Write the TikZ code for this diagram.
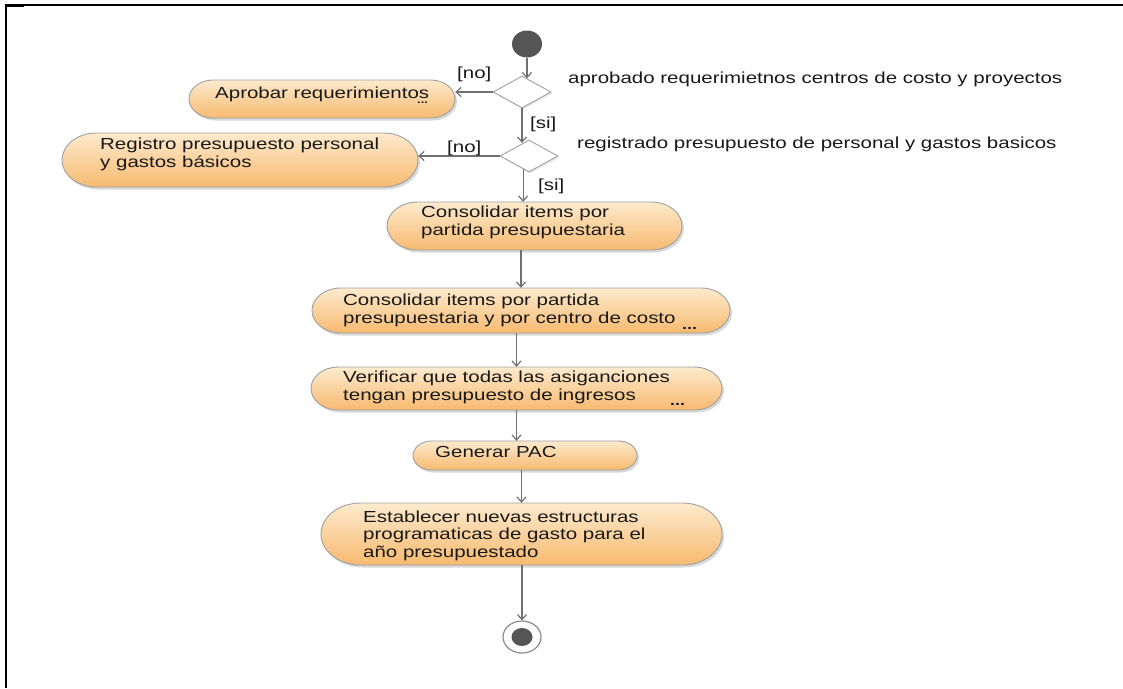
\documentclass[tikz,border=0pt]{standalone}
\usepackage{fontspec}
\setmainfont{Liberation Sans}[FakeStretch=1.28]
\usetikzlibrary{arrows.meta,shapes.geometric,shadows,calc}

\definecolor{pilltop}{RGB}{253,234,205}
\definecolor{pillbot}{RGB}{247,186,112}
\definecolor{pillline}{RGB}{160,160,160}
\definecolor{flowgray}{RGB}{112,112,112}
\definecolor{inkgray}{RGB}{25,25,25}
\definecolor{dotgray}{RGB}{85,85,85}

\tikzset{
  pillshape/.style={draw=pillline, line width=0.9pt, top color=pilltop, bottom color=pillbot,
    drop shadow={shadow xshift=2pt, shadow yshift=-2.5pt, opacity=0.25, fill=black!60}},
  pillbox/.style={rectangle, inner sep=0pt, draw=none},
  flow/.style={draw=flowgray, line width=1.2pt, -{Straight Barb[length=5pt,width=9pt]}},
  txt/.style={font=\fontsize{16}{17.5}\selectfont, text=inkgray, inner sep=0pt, align=left},
  more/.style={font=\fontsize{14}{14}\selectfont\bfseries, text=inkgray, inner sep=0pt},
  choice/.style={diamond, draw=pillline, fill=white, line width=0.9pt, minimum width=58pt,
    minimum height=32pt, inner sep=0pt,
    drop shadow={shadow xshift=1.5pt, shadow yshift=-1.5pt, opacity=0.15, fill=black!60}},
  startdot/.style={ellipse, fill=dotgray, minimum width=30pt, minimum height=27pt, inner sep=0pt},
  endring/.style={ellipse, draw=flowgray!80, line width=1.2pt, fill=white, minimum width=38pt,
    minimum height=32pt, inner sep=0pt},
  endcore/.style={ellipse, fill=dotgray, minimum width=21pt, minimum height=18pt, inner sep=0pt},
}

% activity: rounded box with elliptical ends plus an invisible named node for connectors
% #1 name, #2 centre x, #3 centre y, #4 width, #5 height
\newcommand\activity[5]{%
  \pgfmathsetmacro\axl{#2-#4/2}%
  \pgfmathsetmacro\axr{#2+#4/2}%
  \pgfmathsetmacro\ayt{#3-#5/2}%
  \pgfmathsetmacro\ayb{#3+#5/2}%
  \pgfmathsetmacro\ary{#5/2}%
  \pgfmathsetmacro\arx{1.28*#5/2}%
  \path[pillshape] ({\axl+\arx},\ayt) -- ({\axr-\arx},\ayt)
    arc[start angle=90, end angle=-90, x radius=\arx pt, y radius=\ary pt]
    -- ({\axl+\arx},\ayb)
    arc[start angle=270, end angle=90, x radius=\arx pt, y radius=\ary pt] -- cycle;
  \node[pillbox, minimum width=#4pt, minimum height=#5pt] (#1) at (#2,#3) {};
}

\begin{document}
\begin{tikzpicture}[x=1pt, y=-1pt]
  \useasboundingbox (0,0) rectangle (1123,688);
  \fill[white] (0,0) rectangle (1123,688);

  % frame
  \draw[line width=1.6pt] (5,5) -- (1123,5);
  \draw[line width=2pt] (6,4.2) -- (6,688);
  \draw[line width=2.6pt] (5,5.5) -- (24,5.5);

  % decisions and terminals
  \node[startdot] (start) at (527,44) {};
  \node[choice] (d1) at (522,92) {};
  \node[choice] (d2) at (529,156) {};
  \node[endring] (fin) at (522,637) {};
  \node[endcore] (fincore) at (522,637) {};

  % activities
  \activity{apr}{322}{99}{266}{38}
  \activity{reg}{240}{160}{356}{54}
  \activity{c1}{534.5}{226}{295}{48}
  \activity{c2}{521}{310.5}{418}{45}
  \activity{c3}{516.5}{388.5}{411}{43}
  \activity{gp}{525}{455.5}{224}{29}
  \activity{est}{521.5}{534}{401}{62}

  % activity texts (base = baseline of the last line)
  \node[txt, anchor=base west] (t-apr) at (215,98) {Aprobar requerimientos};
  \node[more, anchor=base west, font=\fontsize{10}{10}\selectfont\bfseries] (m-apr) at (417,103) {...};
  \node[txt, anchor=base west] (t-reg) at (100,167) {Registro presupuesto personal\\y gastos básicos};
  \node[txt, anchor=base west] (t-c1) at (421,235) {Consolidar items por\\partida presupuestaria};
  \node[txt, anchor=base west] (t-c2) at (343,323) {Consolidar items por partida\\presupuestaria y por centro de costo};
  \node[more, anchor=base west] (m-c2) at (682,329) {...};
  \node[txt, anchor=base west] (t-c3) at (343,400) {Verificar que todas las asiganciones\\tengan presupuesto de ingresos};
  \node[more, anchor=base west] (m-c3) at (670,405) {...};
  \node[txt, anchor=base west] (t-gp) at (435,457) {Generar PAC};
  \node[txt, anchor=base west] (t-est) at (363,557) {Establecer nuevas estructuras\\programaticas de gasto para el\\año presupuestado};

  % guard descriptions
  \node[txt, anchor=base west] (g1) at (568,83) {aprobado requerimietnos centros de costo y proyectos};
  \node[txt, anchor=base west] (g2) at (577,148) {registrado presupuesto de personal y gastos basicos};

  % connection points on the diamond edges
  \coordinate (d1in) at ($(d1.north)!0.17!(d1.east)$);
  \coordinate (d2in) at ($(d2.north)!0.2!(d2.west)$);
  \coordinate (d2out) at ($(d2.south)!0.2!(d2.west)$);

  % flows
  \draw[flow] (start.south -| d1in) -- (d1in);
  \draw[flow] (d1.west) -- (d1.west -| apr.east);
  \draw[flow] (d1.south) -- (d1.south |- d2in);
  \draw[flow] (d2.west) -- (d2.west -| reg.east);
  \draw[flow] (d2out) -- (d2out |- c1.north);
  \draw[flow] (c1.south -| c2.north) -- (c2.north);
  \draw[flow] (c2.south -| c3.north) -- (c3.north);
  \draw[flow] (c3.south) -- (c3.south |- gp.north);
  \draw[flow] (gp.south -| est.north) -- (est.north);
  \draw[flow] (est.south -| fin.north) -- (fin.north);

  % guard labels
  \node[txt, anchor=base west] (no1) at (457,78) {[no]};
  \node[txt, anchor=base west] (si1) at (530,128) {[si]};
  \node[txt, anchor=base west] (no2) at (447,152) {[no]};
  \node[txt, anchor=base west] (si2) at (538,190) {[si]};
\end{tikzpicture}
\end{document}
